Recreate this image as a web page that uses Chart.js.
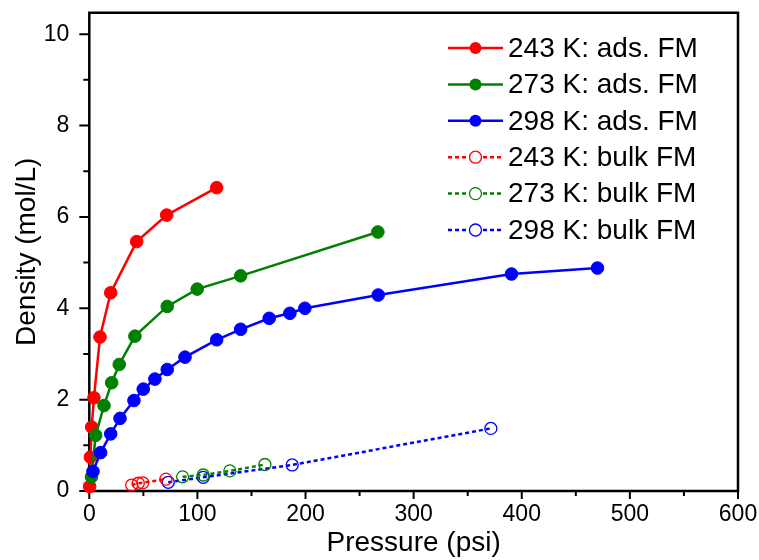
<!DOCTYPE html>
<html>
<head>
<meta charset="utf-8">
<script src="https://cdn.jsdelivr.net/npm/chart.js@4/dist/chart.umd.min.js"></script>
<style>
html,body{margin:0;padding:0;background:#fff;}
#wrap{width:759px;height:560px;position:relative;}
</style>
</head>
<body>
<div id="wrap"><canvas id="c" width="759" height="560"></canvas></div>
<script>
// ---- data ----
const legendLabels = ['243 K: ads. FM','273 K: ads. FM','298 K: ads. FM','243 K: bulk FM','273 K: bulk FM','298 K: bulk FM'];

const p243ads = [0.3, 1.0, 2.2, 4.3, 9.9, 19.8, 43.8, 71.6, 117.8];
const d243ads = [0.10, 0.74, 1.40, 2.04, 3.37, 4.34, 5.46, 6.04, 6.64];

const p273ads = [2.0, 5.9, 13.6, 20.7, 27.7, 42.2, 72.1, 99.8, 140.0, 266.9];
const d273ads = [0.31, 1.22, 1.87, 2.37, 2.77, 3.39, 4.04, 4.42, 4.71, 5.67];

const p298ads = [3.4, 10.5, 19.8, 28.4, 41.3, 49.9, 60.7, 72.1, 88.5, 117.8, 140.0, 166.4, 185.5, 199.4, 267.2, 390.5, 470.0];
const d298ads = [0.43, 0.84, 1.25, 1.59, 1.98, 2.23, 2.45, 2.66, 2.93, 3.31, 3.54, 3.78, 3.89, 4.00, 4.29, 4.75, 4.88];

const p243bulk = [39.2, 45.3, 49.4, 70.9];
const d243bulk = [0.13, 0.17, 0.18, 0.26];

const p273bulk = [86.3, 105.4, 130.0, 162.4];
const d273bulk = [0.31, 0.35, 0.44, 0.58];

const p298bulk = [73.0, 105.4, 187.7, 371.4];
const d298bulk = [0.19, 0.30, 0.57, 1.37];

const xTicks = [0, 100, 200, 300, 400, 500, 600];
const xMinorTicks = [50, 150, 250, 350, 450, 550];
const yTicks = [0, 2, 4, 6, 8, 10];
const yMinorTicks = [1, 3, 5, 7, 9];

// ---- helpers ----
const zip = (xs, ys) => xs.map((x, i) => ({x: x, y: ys[i]}));
const RED = '#ff0000', GREEN = '#008000', BLUE = '#0000ff';

function adsSet(label, xs, ys, col) {
  return {label, data: zip(xs, ys), showLine: true, borderColor: col, backgroundColor: col,
    borderWidth: 2.5, pointRadius: 6.3, pointHoverRadius: 6.3, pointBackgroundColor: col,
    pointBorderColor: col, pointBorderWidth: 1, clip: false, tension: 0};
}
function bulkSet(label, xs, ys, col) {
  return {label, data: zip(xs, ys), showLine: true, borderColor: col, backgroundColor: 'rgba(0,0,0,0)',
    borderWidth: 2.5, borderDash: [4, 3], pointRadius: 6, pointHoverRadius: 6,
    pointBackgroundColor: 'rgba(255,255,255,0)', pointBorderColor: col, pointBorderWidth: 1.3,
    clip: false, tension: 0};
}

const datasets = [
  bulkSet(legendLabels[3], p243bulk, d243bulk, RED),
  bulkSet(legendLabels[4], p273bulk, d273bulk, GREEN),
  bulkSet(legendLabels[5], p298bulk, d298bulk, BLUE),
  adsSet(legendLabels[2], p298ads, d298ads, BLUE),
  adsSet(legendLabels[1], p273ads, d273ads, GREEN),
  adsSet(legendLabels[0], p243ads, d243ads, RED)
];

const FONT = "Arial, 'Liberation Sans', sans-serif";

// frame + tick marks
const framePlugin = {
  id: 'frame',
  beforeDatasetsDraw(chart) {
    const ctx = chart.ctx, a = chart.chartArea;
    const xs = chart.scales.x, ys = chart.scales.y;
    ctx.save();
    ctx.strokeStyle = '#000';
    ctx.lineWidth = 2.5;
    ctx.beginPath();
    ctx.rect(a.left, a.top, a.right - a.left, a.bottom - a.top);
    ctx.stroke();
    ctx.lineWidth = 2;
    ctx.beginPath();
    xTicks.forEach(v => { const px = xs.getPixelForValue(v); ctx.moveTo(px, a.bottom); ctx.lineTo(px, a.bottom + 8); });
    xMinorTicks.forEach(v => { const px = xs.getPixelForValue(v); ctx.moveTo(px, a.bottom); ctx.lineTo(px, a.bottom + 5); });
    yTicks.forEach(v => { const py = ys.getPixelForValue(v); ctx.moveTo(a.left, py); ctx.lineTo(a.left - 10, py); });
    yMinorTicks.forEach(v => { const py = ys.getPixelForValue(v); ctx.moveTo(a.left, py); ctx.lineTo(a.left - 6, py); });
    ctx.stroke();
    ctx.restore();
  }
};

// legend drawn from dataset styles
const legendPlugin = {
  id: 'customLegend',
  afterDraw(chart) {
    const ctx = chart.ctx;
    const order = [5, 4, 3, 0, 1, 2];
    const x0 = 448, x1 = 503, xm = 475.5, tx = 508, y0 = 48, dy = 36.4;
    ctx.save();
    order.forEach((di, i) => {
      const ds = chart.data.datasets[di];
      const y = y0 + i * dy;
      ctx.strokeStyle = ds.borderColor;
      ctx.lineWidth = 2.5;
      ctx.setLineDash(ds.borderDash || []);
      ctx.beginPath(); ctx.moveTo(x0, y); ctx.lineTo(x1, y); ctx.stroke();
      ctx.setLineDash([]);
      ctx.beginPath(); ctx.arc(xm, y, 6, 0, Math.PI * 2);
      if (ds.borderDash) {
        ctx.fillStyle = '#fff'; ctx.fill();
        ctx.lineWidth = 1.3; ctx.stroke();
      } else {
        ctx.fillStyle = ds.borderColor; ctx.fill();
      }
      ctx.fillStyle = '#000';
      ctx.font = '28px ' + FONT;
      ctx.textBaseline = 'middle';
      ctx.textAlign = 'left';
      ctx.fillText(ds.label, tx, y + 1);
    });
    ctx.restore();
  }
};

new Chart(document.getElementById('c'), {
  type: 'scatter',
  data: {datasets},
  options: {
    responsive: false,
    animation: false,
    events: [],
    layout: {padding: {left: 0, right: 21, top: 12.7, bottom: 0}},
    plugins: {legend: {display: false}, tooltip: {enabled: false}},
    scales: {
      x: {
        type: 'linear', min: 0, max: 600,
        afterFit(s) { s.height = 69; s.paddingLeft = 0; s.paddingRight = 0; s.paddingTop = 0; s.paddingBottom = 0; },
        afterBuildTicks(s) { s.ticks = xTicks.map(v => ({value: v})); },
        grid: {display: true, drawOnChartArea: false, drawTicks: false, color: 'rgba(0,0,0,0)'},
        border: {display: false},
        ticks: {color: '#000', font: {family: FONT, size: 23}, padding: 10, maxRotation: 0, autoSkip: false},
        title: {display: true, text: 'Pressure (psi)', color: '#000', font: {family: FONT, size: 28}, padding: {top: 0, bottom: 0}}
      },
      y: {
        type: 'linear', min: 0, max: 10.47,
        afterFit(s) { s.width = 89.3; s.paddingLeft = 0; s.paddingRight = 0; s.paddingTop = 0; s.paddingBottom = 0; },
        afterBuildTicks(s) { s.ticks = yTicks.map(v => ({value: v})); },
        grid: {display: true, drawOnChartArea: false, drawTicks: false, color: 'rgba(0,0,0,0)'},
        border: {display: false},
        ticks: {color: '#000', font: {family: FONT, size: 23}, padding: 20, autoSkip: false},
        title: {display: true, text: 'Density (mol/L)', color: '#000', font: {family: FONT, size: 28}, padding: {top: 10, bottom: 10}}
      }
    }
  },
  plugins: [framePlugin, legendPlugin]
});
</script>
</body>
</html>
